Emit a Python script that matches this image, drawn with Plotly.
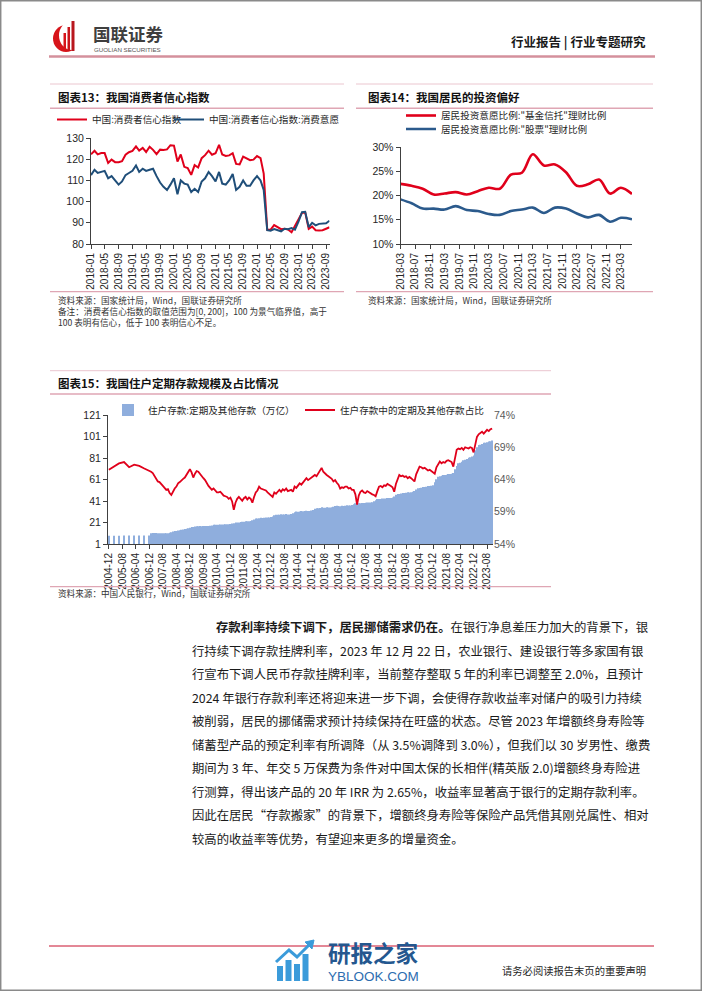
import plotly.graph_objects as go
import pandas as pd

W, H = 702, 991
CJK = "Noto Sans CJK SC"
NUM = "Liberation Sans, Arial, Noto Sans CJK SC"

# ---------------- Chart 13: consumer confidence ----------------
cci_dates = pd.date_range("2018-01-01", "2023-10-01", freq="MS").strftime("%Y-%m-%d").tolist()
cci_index = [
    122.3, 124.0, 122.3, 122.9, 122.9, 118.2, 119.8, 118.6, 118.6, 119.1, 122.1, 123.3,
    123.9, 126.0, 124.1, 125.3, 123.4, 125.9, 124.4, 122.4, 124.5, 124.3, 124.6, 126.6,
    126.4, 118.9, 122.2, 116.4, 115.8, 112.6, 117.2, 116.1, 120.5, 121.9, 124.0, 122.1,
    122.8, 126.8, 122.2, 121.5, 121.8, 122.8, 117.8, 117.5, 121.2, 120.2, 119.5, 119.8,
    121.5, 120.5, 113.2, 86.7, 86.8, 88.9, 87.9, 87.0, 87.2, 86.8, 85.5, 88.3,
    91.2, 94.7, 94.9, 87.1, 88.2, 86.5, 86.4, 86.5, 87.2, 87.9]
cci_willing = [
    112.5, 115.0, 113.5, 114.0, 114.5, 111.0, 112.0, 110.0, 108.0, 109.5, 112.5, 113.5,
    114.5, 117.0, 114.0, 115.5, 114.5, 115.0, 115.5, 112.0, 109.0, 107.0, 105.5, 108.0,
    111.0, 103.5, 110.0, 108.5, 108.0, 104.5, 106.0, 104.5, 109.5, 111.0, 114.0, 112.0,
    109.5, 114.0, 108.5, 108.0, 110.0, 113.0, 105.5, 107.0, 110.0, 107.5, 107.5, 110.0,
    112.0, 110.0, 105.5, 86.5, 86.3, 87.0, 86.5, 86.0, 87.2, 87.0, 87.5, 86.8,
    90.5, 95.0, 95.2, 88.0, 90.0, 88.8, 89.5, 89.5, 89.8, 91.0]
cci_ticks = ["2018-01", "2018-05", "2018-09", "2019-01", "2019-05", "2019-09",
             "2020-01", "2020-05", "2020-09", "2021-01", "2021-05", "2021-09",
             "2022-01", "2022-05", "2022-09", "2023-01", "2023-05", "2023-09"]

# ---------------- Chart 14: investment preference (quarterly) ----------------
inv_dates = pd.date_range("2018-03-01", "2023-06-01", freq="3MS").strftime("%Y-%m-%d").tolist()
inv_fund_trust = [22.4, 22.0, 21.4, 20.2, 20.4, 20.7, 20.2, 20.9, 21.6, 21.4, 24.3,
                  24.7, 28.5, 26.2, 26.4, 24.8, 22.0, 22.3, 23.3, 20.4, 21.6, 20.3]
inv_stock = [19.2, 18.4, 17.3, 17.3, 17.1, 17.8, 17.0, 16.8, 16.2, 16.0, 16.8,
             17.1, 17.5, 16.4, 17.5, 17.3, 16.3, 15.5, 16.0, 14.6, 15.4, 15.1]
inv_ticks = ["2018-03", "2018-07", "2018-11", "2019-03", "2019-07", "2019-11",
             "2020-03", "2020-07", "2020-11", "2021-03", "2021-07", "2021-11",
             "2022-03", "2022-07", "2022-11", "2023-03"]

# ---------------- Chart 15: household term deposits ----------------
dep_months = pd.date_range("2004-12-01", "2023-11-01", freq="MS").strftime("%Y-%m").tolist()
N = None
dep_amount = [
    8.6,
    N, N, 8.7, N, N, 8.7, N, N, 8.8, N, N, 8.8,
    N, N, 8.9, N, N, 8.9, N, N, 9.0, N, N, 9.0,
    11.0, 11.2, 11.3, 11.2, 11.0, 11.1, 11.0, 10.9, 11.0, 11.0, 11.1, 11.4,
    12.0, 12.6, 13.0, 13.2, 13.5, 13.9, 14.2, 14.5, 14.9, 15.3, 15.7, 16.2,
    16.8, 16.9, 17.3, 17.4, 17.5, 17.7, 17.6, 17.7, 17.8, 17.7, 17.8, 17.9,
    18.3, 18.8, 18.9, 18.9, 18.9, 19.2, 19.1, 19.1, 19.4, 19.4, 19.4, 19.6,
    20.1, 20.2, 21.0, 21.0, 21.1, 21.5, 21.6, 21.7, 22.1, 22.1, 22.2, 22.4,
    23.1, 23.9, 24.8, 24.8, 25.0, 25.4, 25.3, 25.4, 25.7, 25.6, 25.7, 26.0,
    26.6, 27.8, 28.3, 28.1, 28.2, 28.6, 28.4, 28.5, 28.8, 28.5, 28.5, 28.9,
    29.6, 30.5, 31.3, 31.0, 31.2, 31.7, 31.5, 31.6, 31.9, 31.7, 31.8, 32.2,
    32.7, 33.7, 34.2, 34.3, 34.6, 35.1, 34.8, 34.8, 35.1, 34.9, 34.9, 35.1,
    35.6, 36.3, 36.5, 36.3, 36.2, 36.5, 36.4, 36.6, 37.0, 36.8, 36.9, 37.2,
    37.9, 38.8, 39.0, 38.8, 38.9, 39.2, 39.1, 39.3, 39.6, 39.5, 39.6, 39.9,
    40.7, 41.8, 42.9, 42.8, 42.9, 43.3, 43.3, 43.4, 43.8, 43.7, 43.8, 44.2,
    45.3, 46.7, 47.6, 47.6, 47.9, 48.5, 48.4, 48.6, 49.1, 49.0, 49.1, 49.6,
    50.3, 51.6, 52.8, 53.0, 53.4, 54.1, 54.0, 54.3, 55.0, 55.0, 55.1, 55.7,
    58.5, 61.3, 63.6, 64.0, 64.4, 65.1, 65.2, 65.4, 66.1, 66.1, 66.4, 67.0,
    70.5, 73.5, 76.0, 76.5, 77.4, 79.0, 79.4, 80.0, 81.2, 81.6, 82.3, 83.4,
    88.2, 91.0, 93.2, 93.4, 94.0, 95.1, 95.3, 95.6, 96.4, 96.6, 97.2]
dep_share = [
    65.5,
    N, N, 66.0, N, N, 66.5, N, N, 66.7, N, N, 65.9,
    N, N, 66.3, N, N, 66.1, N, N, 65.7, N, N, 65.4,
    65.2, 65.0, 64.6, 64.2, 63.7, 63.6, 63.2, 63.0, 62.7, 62.4, 62.5, 61.9,
    61.6, 62.2, 62.6, 62.9, 63.4, 63.6, 63.9, 64.1, 64.3, 64.8, 65.2, 65.6,
    65.1, 64.3, 64.9, 65.3, 65.2, 64.8, 64.4, 64.2, 63.9, 63.4, 63.0, 62.7,
    62.4, 62.6, 62.3, 62.0, 62.0, 62.1, 61.8, 61.5, 61.4, 61.3, 61.0, 61.2,
    60.6, 59.3, 60.4, 61.0, 61.3, 60.9, 60.7, 61.1, 61.3, 60.9, 61.2, 61.0,
    60.4, 61.3, 62.0, 62.3, 62.9, 62.6, 62.5, 62.4, 62.3, 62.0, 61.8, 61.6,
    61.3, 62.0, 61.8, 62.1, 62.4, 62.1, 62.5, 62.3, 62.6, 62.2, 62.3, 62.4,
    62.1, 62.9, 62.7, 63.1, 63.4, 63.2, 63.6, 63.9, 64.2, 63.9, 64.1, 64.3,
    64.4, 64.7, 64.5, 64.9, 65.3, 65.8, 65.2, 64.9, 64.7, 64.5, 64.3, 64.1,
    63.7, 63.9, 63.5, 63.2, 62.6, 62.8, 62.7, 62.9, 62.9, 62.6, 62.7, 62.4,
    62.4, 61.7, 60.1, 61.5, 62.1, 62.3, 62.0, 61.9, 62.2, 62.0, 61.9, 61.7,
    61.6, 61.4, 62.2, 62.9, 63.0, 62.8, 63.1, 63.0, 63.3, 63.2, 63.0, 62.8,
    62.1, 63.3, 64.2, 64.7, 64.5, 64.6, 64.4, 64.5, 64.2, 64.4, 64.2, 64.0,
    63.7, 64.8, 65.5, 66.0, 65.9, 65.7, 65.8, 65.6, 65.4, 65.5, 65.3, 65.1,
    64.9, 65.9, 66.3, 66.8, 66.5, 66.7, 66.6, 66.9, 67.0, 66.8, 66.7, 66.0,
    67.5, 68.6, 68.8, 68.7, 68.9, 68.6, 69.0, 68.9, 68.8, 69.0, 68.9, 68.2,
    69.4, 70.6, 71.0, 71.2, 71.4, 71.1, 71.5, 71.7, 71.5, 71.8, 71.9]
dep_ticks = ["2004-12", "2005-08", "2006-04", "2006-12", "2007-08", "2008-04", "2008-12",
             "2009-08", "2010-04", "2010-12", "2011-08", "2012-04", "2012-12", "2013-08",
             "2014-04", "2014-12", "2015-08", "2016-04", "2016-12", "2017-08", "2018-04",
             "2018-12", "2019-08", "2020-04", "2020-12", "2021-08", "2022-04", "2022-12",
             "2023-08"]
dep_left_ticks = [1, 21, 41, 61, 81, 101, 121]
dep_right_ticks = [54, 59, 64, 69, 74]

body_lines = [
    "<b>存款利率持续下调下，居民挪储需求仍在。</b>在银行净息差压力加大的背景下，银",
    "行持续下调存款挂牌利率，2023 年 12 月 22 日，农业银行、建设银行等多家国有银",
    "行宣布下调人民币存款挂牌利率，当前整存整取 5 年的利率已调整至 2.0%，且预计",
    "2024 年银行存款利率还将迎来进一步下调，会使得存款收益率对储户的吸引力持续",
    "被削弱，居民的挪储需求预计持续保持在旺盛的状态。尽管 2023 年增额终身寿险等",
    "储蓄型产品的预定利率有所调降（从 3.5%调降到 3.0%），但我们以 30 岁男性、缴费",
    "期间为 3 年、年交 5 万保费为条件对中国太保的长相伴(精英版 2.0)增额终身寿险进",
    "行测算，得出该产品的 20 年 IRR 为 2.65%，收益率显著高于银行的定期存款利率。",
    "因此在居民“存款搬家”的背景下，增额终身寿险等保险产品凭借其刚兑属性、相对",
    "较高的收益率等优势，有望迎来更多的增量资金。",
]


def X(px):
    return px / W


def Y(py):
    return 1 - py / H


RED = "#E0001B"
BLUE = "#1F4E79"

fig = go.Figure()

fig.add_trace(go.Scatter(x=cci_dates, y=cci_index, mode="lines", name="中国:消费者信心指数",
                         line=dict(color=RED, width=2), xaxis="x", yaxis="y", legend="legend"))
fig.add_trace(go.Scatter(x=cci_dates, y=cci_willing, mode="lines", name="中国:消费者信心指数:消费意愿",
                         line=dict(color=BLUE, width=2), xaxis="x", yaxis="y", legend="legend2"))

fig.add_trace(go.Scatter(x=inv_dates, y=inv_fund_trust, mode="lines",
                         name='居民投资意愿比例:"基金信托"理财比例',
                         line=dict(color=RED, width=2.6, shape="spline", smoothing=1.0),
                         xaxis="x2", yaxis="y2", legend="legend3"))
fig.add_trace(go.Scatter(x=inv_dates, y=inv_stock, mode="lines",
                         name='居民投资意愿比例:"股票"理财比例',
                         line=dict(color="#2B5A8C", width=2.6, shape="spline", smoothing=1.0),
                         xaxis="x2", yaxis="y2", legend="legend4"))

fig.add_trace(go.Bar(x=dep_months, y=dep_amount, name="住户存款:定期及其他存款（万亿）",
                     marker=dict(color="#8FAEDD", line=dict(width=0)),
                     xaxis="x3", yaxis="y3", legend="legend5"))
fig.add_trace(go.Scatter(x=dep_months, y=dep_share, mode="lines", connectgaps=True,
                         name="住户存款中的定期及其他存款占比",
                         line=dict(color=RED, width=1.8), xaxis="x3", yaxis="y4", legend="legend6"))

tickfont = dict(family=NUM, size=10.5, color="#262626")
base_axis = dict(showgrid=False, zeroline=False, showline=True, linecolor="#404040", linewidth=1,
                 ticks="outside", ticklen=4, tickcolor="#404040", tickfont=tickfont, automargin=False)

fig.update_layout(
    xaxis=dict(base_axis, domain=[X(91), X(329.5)], anchor="y", type="date",
               range=["2018-01-01", "2023-10-01"], tickvals=cci_ticks, ticktext=cci_ticks,
               tickangle=-90, tickfont=dict(family=NUM, size=10, color="#262626")),
    yaxis=dict(base_axis, domain=[Y(244), Y(138)], anchor="x", range=[80, 130], dtick=10),
    xaxis2=dict(base_axis, domain=[X(400.5), X(632)], anchor="y2", type="date",
                range=["2018-03-01", "2023-06-01"], tickvals=inv_ticks, ticktext=inv_ticks,
                tickangle=-90, tickfont=dict(family=NUM, size=10, color="#262626")),
    yaxis2=dict(base_axis, domain=[Y(244), Y(147)], anchor="x2", range=[10, 30],
                tickvals=[10, 15, 20, 25, 30], ticktext=["10%", "15%", "20%", "25%", "30%"]),
    xaxis3=dict(base_axis, domain=[X(108), X(493)], anchor="y3", type="category",
                range=[-0.5, len(dep_months) - 0.5], tickvals=dep_ticks, ticktext=dep_ticks,
                tickangle=-90, tickfont=dict(family=NUM, size=10, color="#262626")),
    yaxis3=dict(base_axis, domain=[Y(544), Y(415)], anchor="x3", range=[1, 121],
                tickvals=dep_left_ticks),
    yaxis4=dict(showgrid=False, zeroline=False, showline=False, overlaying="y3", side="right",
                anchor="x3", range=[54, 74], tickvals=dep_right_ticks,
                ticktext=[f"{v}%" for v in dep_right_ticks], ticks="", automargin=False,
                tickfont=dict(family=NUM, size=10.5, color="#595959")),
    bargap=0.42,
)

leg_font = dict(family=CJK, size=9.6, color="#262626")


def legend_at(x, y):
    return dict(x=X(x), y=Y(y), xanchor="left", yanchor="middle", orientation="h",
                font=leg_font, bgcolor="rgba(0,0,0,0)", borderwidth=0, itemwidth=30)


fig.update_layout(
    legend=legend_at(52, 119.5),
    legend2=legend_at(169, 119.5),
    legend3=legend_at(401, 115.5),
    legend4=legend_at(401, 129),
    legend5=legend_at(108, 410),
    legend6=legend_at(300, 410),
)

shapes = []


def hline(x0, x1, y, color, width):
    shapes.append(dict(type="line", xref="paper", yref="paper", x0=X(x0), x1=X(x1),
                       y0=Y(y), y1=Y(y), line=dict(color=color, width=width)))


def rect(x0, y0, x1, y1, fill, line_color=None, lw=0):
    shapes.append(dict(type="rect", xref="paper", yref="paper", x0=X(x0), x1=X(x1),
                       y0=Y(y1), y1=Y(y0), fillcolor=fill,
                       line=dict(color=line_color or fill, width=lw)))


# page frame
shapes.append(dict(type="rect", xref="paper", yref="paper", x0=X(0.7), x1=X(701.3),
                   y0=Y(990.3), y1=Y(0.7), line=dict(color="#8a8a8a", width=1.5)))
# header line
hline(49, 655, 56.5, "#D4909C", 2.5)
# chart title bars
TOP = "#EBC6CF"
BOT = "#DFA6B4"
hline(50, 344, 84, TOP, 1)
hline(50, 344, 108.3, BOT, 1.6)
hline(50, 344, 291.7, BOT, 1.3)
hline(356, 653, 84, TOP, 1)
hline(356, 653, 108.3, BOT, 1.6)
hline(356, 653, 291.7, BOT, 1.3)
hline(50, 551, 370.7, TOP, 1)
hline(50, 551, 394, BOT, 1.6)
hline(50, 551, 586.7, BOT, 1.3)
# footer line
hline(49, 654, 946, "#C8102E", 1)

# logo (crescent + bars)
shapes.append(dict(type="circle", xref="paper", yref="paper", x0=X(53), x1=X(79), y0=Y(52), y1=Y(25),
                   fillcolor="#D7141A", line=dict(width=0)))
shapes.append(dict(type="circle", xref="paper", yref="paper", x0=X(59), x1=X(85), y0=Y(50), y1=Y(21),
                   fillcolor="white", line=dict(width=0)))
rect(63.5, 33, 66, 51, "#D7141A")
rect(67.5, 27, 70, 51, "#C9151B")
rect(71.5, 21, 74.5, 51, "#B8171E")

# watermark icon
for bx, top in [(277, 966), (285.5, 960), (294, 964), (302.5, 954)]:
    rect(bx, top, bx + 6, 981, "#3B9BDA")
shapes.append(dict(type="path", xref="paper", yref="paper",
                   path=f"M{X(276)},{Y(962)} L{X(289)},{Y(950)} L{X(297)},{Y(957)} L{X(310)},{Y(944)}",
                   line=dict(color="#3B9BDA", width=3)))
shapes.append(dict(type="path", xref="paper", yref="paper",
                   path=f"M{X(305)},{Y(942)} L{X(314)},{Y(940)} L{X(312)},{Y(949)} Z",
                   fillcolor="#3B9BDA", line=dict(color="#3B9BDA", width=1)))

ann = []


def note(x, y, text, size, color="#262626", family=CJK, xanchor="left"):
    ann.append(dict(x=X(x), y=Y(y), xref="paper", yref="paper", text=text, showarrow=False,
                    xanchor=xanchor, yanchor="middle", align="left",
                    font=dict(family=family, size=size, color=color)))


# header
note(91, 33.5, "<b>国联证券</b>", 17.5, "#3F3F3F")
note(92, 50, "GUOLIAN SECURITIES", 6.2, "#555555", family="Liberation Sans, Arial")
note(648, 42, "<b>行业报告 | 行业专题研究</b>", 12.5, "#1a1a1a", xanchor="right")

# chart titles
note(56, 96.7, "<b>图表13：我国消费者信心指数</b>", 11.5, "#111111")
note(366, 96.7, "<b>图表14：我国居民的投资偏好</b>", 11.5, "#111111")
note(56, 382.5, "<b>图表15：我国住户定期存款规模及占比情况</b>", 11.5, "#111111")

# sources / notes
src_c = "#333333"
note(56, 299.5, "资料来源：国家统计局，Wind，国联证券研究所", 8.6, src_c)
note(56, 311, "备注：消费者信心指数的取值范围为[0, 200]，100 为景气临界值，高于", 8.6, src_c)
note(56, 322.5, "100 表明有信心，低于 100 表明信心不足。", 8.6, src_c)
note(366, 299.5, "资料来源：国家统计局，Wind，国联证券研究所", 8.6, src_c)
note(56, 593, "资料来源：中国人民银行，Wind，国联证券研究所", 8.6, src_c)

# body paragraph
for i, line in enumerate(body_lines):
    x0 = 214 if i == 0 else 189.5
    note(x0, 627 + i * 23.5, line, 12.35, "#1a1a1a")

# footer
note(373, 951.5, "<b>研报之家</b>", 22.5, "#24578F", xanchor="center")
note(373, 976.5, "YBLOOK.COM", 13.5, "#2C6DB0", family="Liberation Sans, Arial", xanchor="center")
note(648, 970, "请务必阅读报告末页的重要声明", 10.3, "#262626", xanchor="right")

fig.update_layout(
    width=W, height=H, margin=dict(l=0, r=0, t=0, b=0),
    paper_bgcolor="white", plot_bgcolor="white", template="none",
    shapes=shapes, annotations=ann, showlegend=True,
)

fig.write_html("out.html")
